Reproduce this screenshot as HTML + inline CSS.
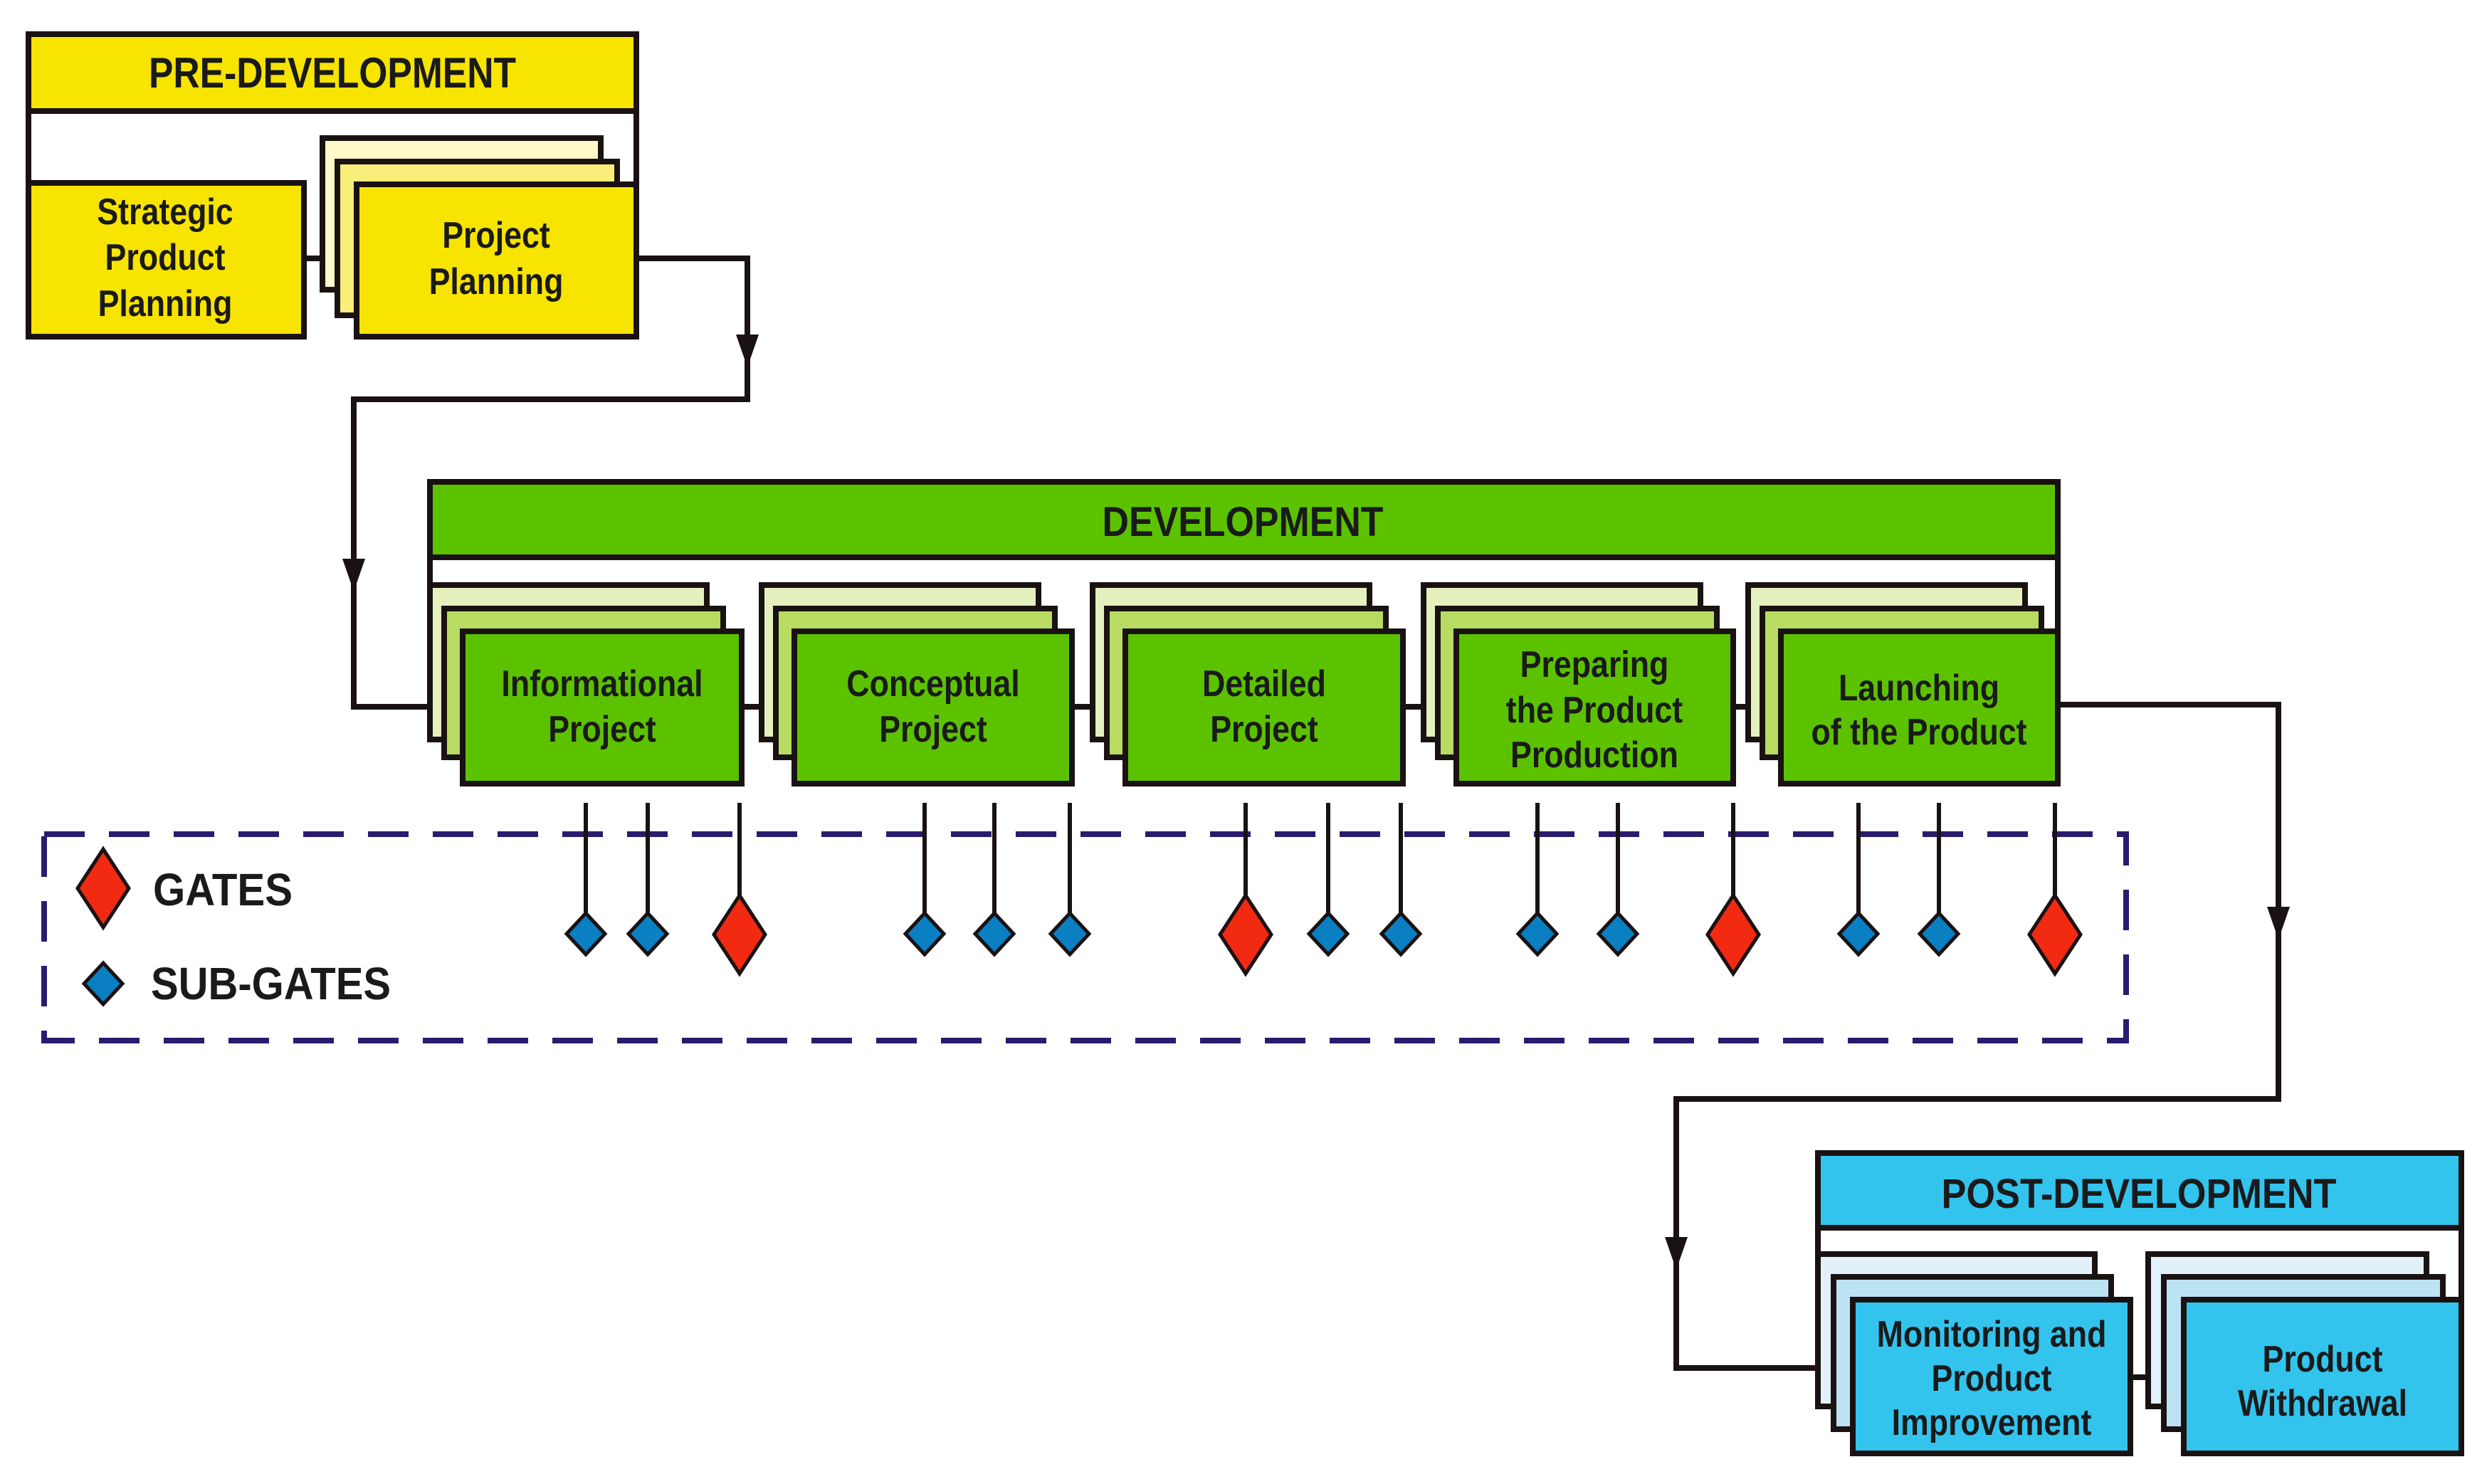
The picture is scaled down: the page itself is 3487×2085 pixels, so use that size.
<!DOCTYPE html>
<html><head><meta charset="utf-8"><style>html,body{margin:0;padding:0;background:#fff}svg{display:block}text{font-family:"Liberation Sans",Arial,sans-serif;font-weight:bold;fill:#1a1a1a}</style></head>
<body>
<svg width="3487" height="2085" viewBox="0 0 3487 2085" xmlns="http://www.w3.org/2000/svg">
<g stroke="#1a1212" stroke-width="8" fill="none">
<polyline points="894,363 1050,363 1050,561 497,561 497,993 604,993"/>
<polyline points="2891,990 3201,990 3201,1544 2355,1544 2355,1922 2554,1922"/>
<line x1="427" y1="363" x2="499" y2="363"/>
<line x1="1042" y1="993" x2="1116" y2="993"/>
<line x1="1506" y1="993" x2="1581" y2="993"/>
<line x1="1971" y1="993" x2="2046" y2="993"/>
<line x1="2435" y1="993" x2="2502" y2="993"/>
<line x1="2993" y1="1935" x2="3068" y2="1935"/>
</g>
<g fill="#1a1212">
<polygon points="1034,470 1066,470 1050,516"/>
<polygon points="481,785 513,785 497,831"/>
<polygon points="3185,1274 3217,1274 3201,1320"/>
<polygon points="2339,1738 2371,1738 2355,1784"/>
</g>

<!-- PRE-DEVELOPMENT -->
<g stroke="#1a1212" stroke-width="8">
<line x1="40" y1="156" x2="40" y2="260"/>
<line x1="894" y1="156" x2="894" y2="260"/>
<rect x="40" y="48" width="854" height="108" fill="#f7e400"/>
<rect x="40" y="257" width="387" height="216" fill="#f7e400"/>
<rect x="453" y="194" width="391" height="213" fill="#fff8c8"/>
<rect x="474" y="227" width="393" height="216" fill="#faee7a"/>
<rect x="501" y="259" width="393" height="214" fill="#f7e400"/>
</g>
<text x="467" y="123" font-size="60" text-anchor="middle" textLength="516" lengthAdjust="spacingAndGlyphs">PRE-DEVELOPMENT</text>

<!-- DEVELOPMENT -->
<g stroke="#1a1212" stroke-width="8">
<rect x="604" y="677" width="2287" height="106" fill="#5cc200"/>
<line x1="604" y1="783" x2="604" y2="1040"/>
<line x1="2891" y1="783" x2="2891" y2="890"/>
</g>
<text x="1746" y="753" font-size="58" text-anchor="middle" textLength="395" lengthAdjust="spacingAndGlyphs">DEVELOPMENT</text>

<g stroke="#1a1212" stroke-width="8">
<rect x="604" y="822" width="389" height="217" fill="#e4f1bc"/>
<rect x="624" y="855" width="392" height="209" fill="#b8dc62"/>
<rect x="650" y="887" width="392" height="214" fill="#5cc200"/>
<rect x="1070" y="822" width="389" height="217" fill="#e4f1bc"/>
<rect x="1090" y="855" width="392" height="209" fill="#b8dc62"/>
<rect x="1116" y="887" width="390" height="214" fill="#5cc200"/>
<rect x="1535" y="822" width="389" height="217" fill="#e4f1bc"/>
<rect x="1555" y="855" width="392" height="209" fill="#b8dc62"/>
<rect x="1581" y="887" width="390" height="214" fill="#5cc200"/>
<rect x="2000" y="822" width="389" height="217" fill="#e4f1bc"/>
<rect x="2020" y="855" width="392" height="209" fill="#b8dc62"/>
<rect x="2046" y="887" width="389" height="214" fill="#5cc200"/>
<rect x="2456" y="822" width="389" height="217" fill="#e4f1bc"/>
<rect x="2476" y="855" width="392" height="209" fill="#b8dc62"/>
<rect x="2502" y="887" width="389" height="214" fill="#5cc200"/>
</g>

<!-- POST-DEVELOPMENT -->
<g stroke="#1a1212" stroke-width="8">
<line x1="2554" y1="1725" x2="2554" y2="1765"/>
<line x1="3458" y1="1725" x2="3458" y2="1830"/>
<rect x="2554" y="1620" width="904" height="105" fill="#33c4ee"/>
<rect x="2554" y="1762" width="389" height="214" fill="#e2f1f9"/>
<rect x="2576" y="1794" width="390" height="214" fill="#bde2f3"/>
<rect x="2603" y="1826" width="390" height="216" fill="#33c4ee"/>
<rect x="3018" y="1762" width="391" height="214" fill="#e2f1f9"/>
<rect x="3040" y="1794" width="392" height="214" fill="#bde2f3"/>
<rect x="3068" y="1826" width="390" height="216" fill="#33c4ee"/>
</g>
<text x="3005" y="1697" font-size="58" text-anchor="middle" textLength="555" lengthAdjust="spacingAndGlyphs">POST-DEVELOPMENT</text>

<g font-size="52" text-anchor="middle">
<g transform="translate(232,0) scale(0.86,1)"><text x="0" y="315">Strategic</text><text x="0" y="379">Product</text><text x="0" y="444">Planning</text></g>
<g transform="translate(697,0) scale(0.86,1)"><text x="0" y="348">Project</text><text x="0" y="413">Planning</text></g>
<g transform="translate(846,0) scale(0.86,1)"><text x="0" y="978">Informational</text><text x="0" y="1042">Project</text></g>
<g transform="translate(1311,0) scale(0.86,1)"><text x="0" y="978">Conceptual</text><text x="0" y="1042">Project</text></g>
<g transform="translate(1776,0) scale(0.86,1)"><text x="0" y="978">Detailed</text><text x="0" y="1042">Project</text></g>
<g transform="translate(2240,0) scale(0.86,1)"><text x="0" y="951">Preparing</text><text x="0" y="1015">the Product</text><text x="0" y="1078">Production</text></g>
<g transform="translate(2696,0) scale(0.86,1)"><text x="0" y="984">Launching</text><text x="0" y="1046">of the Product</text></g>
<g transform="translate(2798,0) scale(0.86,1)"><text x="0" y="1892">Monitoring and</text><text x="0" y="1954">Product</text><text x="0" y="2016">Improvement</text></g>
<g transform="translate(3263,0) scale(0.86,1)"><text x="0" y="1927">Product</text><text x="0" y="1989">Withdrawal</text></g>
</g>

<rect x="62" y="1172" width="2925" height="290" fill="none" stroke="#2b1b6e" stroke-width="8" stroke-dasharray="57,34"/>

<g stroke="#1a1212" stroke-width="6">
<line x1="823" y1="1128" x2="823" y2="1285"/>
<line x1="910" y1="1128" x2="910" y2="1285"/>
<line x1="1039" y1="1128" x2="1039" y2="1260"/>
<line x1="1299" y1="1128" x2="1299" y2="1285"/>
<line x1="1397" y1="1128" x2="1397" y2="1285"/>
<line x1="1503" y1="1128" x2="1503" y2="1285"/>
<line x1="1750" y1="1128" x2="1750" y2="1260"/>
<line x1="1866" y1="1128" x2="1866" y2="1285"/>
<line x1="1968" y1="1128" x2="1968" y2="1285"/>
<line x1="2160" y1="1128" x2="2160" y2="1285"/>
<line x1="2273" y1="1128" x2="2273" y2="1285"/>
<line x1="2435" y1="1128" x2="2435" y2="1260"/>
<line x1="2611" y1="1128" x2="2611" y2="1285"/>
<line x1="2724" y1="1128" x2="2724" y2="1285"/>
<line x1="2887" y1="1128" x2="2887" y2="1260"/>
</g>
<g stroke="#1a1212" stroke-width="5">
<g fill="#0a7fc2">
<polygon points="823,1283 850,1312 823,1341 796,1312"/>
<polygon points="910,1283 937,1312 910,1341 883,1312"/>
<polygon points="1299,1283 1326,1312 1299,1341 1272,1312"/>
<polygon points="1397,1283 1424,1312 1397,1341 1370,1312"/>
<polygon points="1503,1283 1530,1312 1503,1341 1476,1312"/>
<polygon points="1866,1283 1893,1312 1866,1341 1839,1312"/>
<polygon points="1968,1283 1995,1312 1968,1341 1941,1312"/>
<polygon points="2160,1283 2187,1312 2160,1341 2133,1312"/>
<polygon points="2273,1283 2300,1312 2273,1341 2246,1312"/>
<polygon points="2611,1283 2638,1312 2611,1341 2584,1312"/>
<polygon points="2724,1283 2751,1312 2724,1341 2697,1312"/>
<polygon points="145,1353 172,1382 145,1411 118,1382"/>
</g>
<g fill="#f22a12">
<polygon points="1039,1258 1075,1313 1039,1368 1003,1313"/>
<polygon points="1750,1258 1786,1313 1750,1368 1714,1313"/>
<polygon points="2435,1258 2471,1313 2435,1368 2399,1313"/>
<polygon points="2887,1258 2923,1313 2887,1368 2851,1313"/>
<polygon points="145,1193 181,1248 145,1303 109,1248"/>
</g>
</g>
<text x="215" y="1272" font-size="64" textLength="196" lengthAdjust="spacingAndGlyphs">GATES</text>
<text x="212" y="1404" font-size="64" textLength="337" lengthAdjust="spacingAndGlyphs">SUB-GATES</text>
</svg>
</body></html>
